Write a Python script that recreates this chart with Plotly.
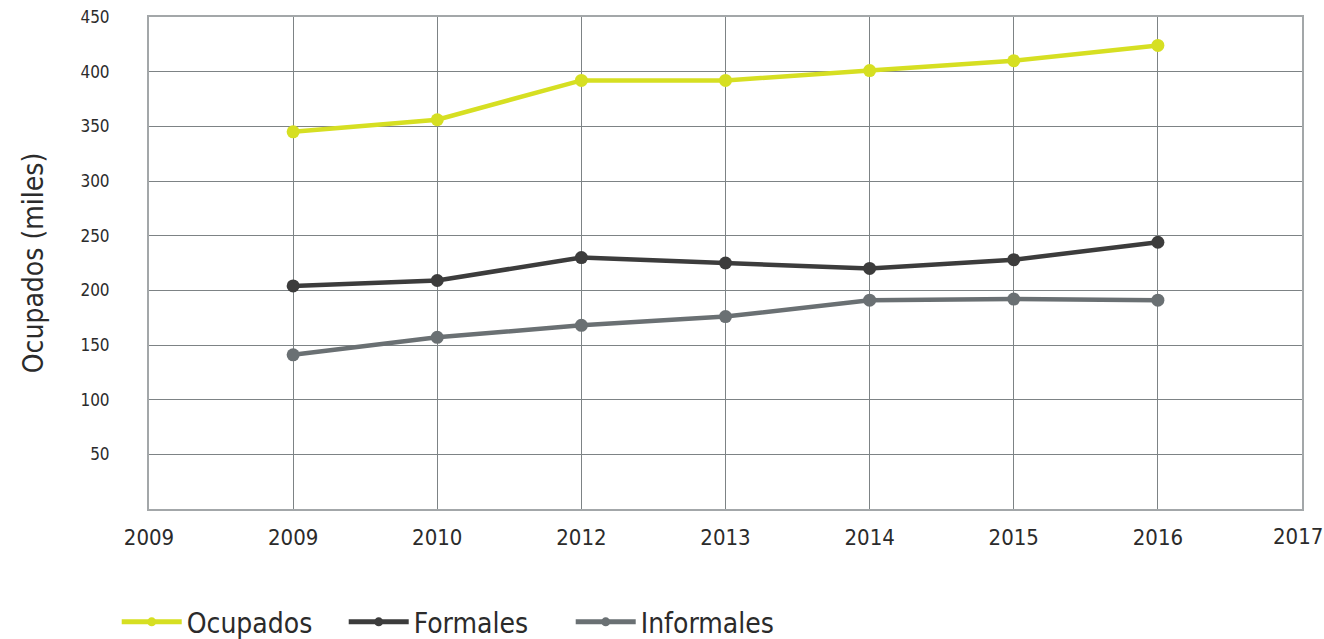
import plotly.graph_objects as go

tick_labels = ["2009", "2009", "2010", "2012", "2013", "2014", "2015", "2016", "2017"]
x_pos = [1, 2, 3, 4, 5, 6, 7]
ocupados = [345, 356, 392, 392, 401, 410, 424]
formales = [204, 209, 230, 225, 220, 228, 244]
informales = [141, 157, 168, 176, 191, 192, 191]
y_ticks = [50, 100, 150, 200, 250, 300, 350, 400, 450]

FONT = "DejaVu Sans Condensed, Liberation Sans Narrow, sans-serif"
TXT = "#2b2b2b"

fig = go.Figure()
series = [("Ocupados", ocupados, "#d6df22"),
          ("Formales", formales, "#3c3c3c"),
          ("Informales", informales, "#6a7073")]
for name, vals, col in series:
    fig.add_trace(go.Scatter(
        x=x_pos, y=vals, name=name, mode="lines+markers", showlegend=False,
        legendgroup=name,
        line=dict(color=col, width=4.5),
        marker=dict(color=col, size=13),
    ))
# legend entries (smaller marker in the key, as in the reference)
for name, vals, col in series:
    fig.add_trace(go.Scatter(
        x=[None], y=[None], name=name, mode="lines+markers", legendgroup=name,
        line=dict(color=col, width=5), marker=dict(color=col, size=9),
    ))

n_ticks = len(tick_labels)
fig.update_layout(
    width=1324, height=639,
    margin=dict(l=149, r=22, t=17, b=130, autoexpand=False),
    paper_bgcolor="white", plot_bgcolor="white",
    font=dict(family=FONT, color=TXT),
    showlegend=True,
    legend=dict(orientation="h", x=-0.028, xanchor="left", y=-0.23, yanchor="middle",
                font=dict(size=28, family=FONT, color=TXT),
                itemwidth=60, entrywidth=152, tracegroupgap=0, bgcolor="rgba(0,0,0,0)"),
)
# last category label sits on the right frame edge; draw it as text so it is not dropped
fig.add_annotation(x=n_ticks - 1, xref="x", y=0, yref="paper", yanchor="top",
                   text=tick_labels[-1], showarrow=False, xshift=-4, yshift=-13,
                   font=dict(size=22, family=FONT, color=TXT))
fig.update_xaxes(
    range=[0, n_ticks - 1], tickmode="array", tickvals=list(range(n_ticks - 1)),
    ticktext=tick_labels[:-1],
    showgrid=True, gridcolor="#7d8385", gridwidth=1.3,
    showline=True, mirror=True, linecolor="#a3a7a9", linewidth=2,
    zeroline=False, ticks="", ticklabelstandoff=8, automargin=False,
    tickfont=dict(size=22, family=FONT, color=TXT),
)
fig.update_yaxes(
    range=[0, 450], tickmode="array", tickvals=y_ticks,
    showgrid=True, gridcolor="#7d8385", gridwidth=1.3,
    showline=True, mirror=True, linecolor="#a3a7a9", linewidth=2,
    zeroline=False, ticks="", ticklabelstandoff=34, automargin=False,
    tickfont=dict(size=17, family=FONT, color=TXT),
    title=dict(text="Ocupados (miles)", font=dict(size=28, family=FONT, color=TXT), standoff=29),
)

fig.write_html("out.html", config={"displayModeBar": False},
               post_script="document.body.style.margin='0';")
